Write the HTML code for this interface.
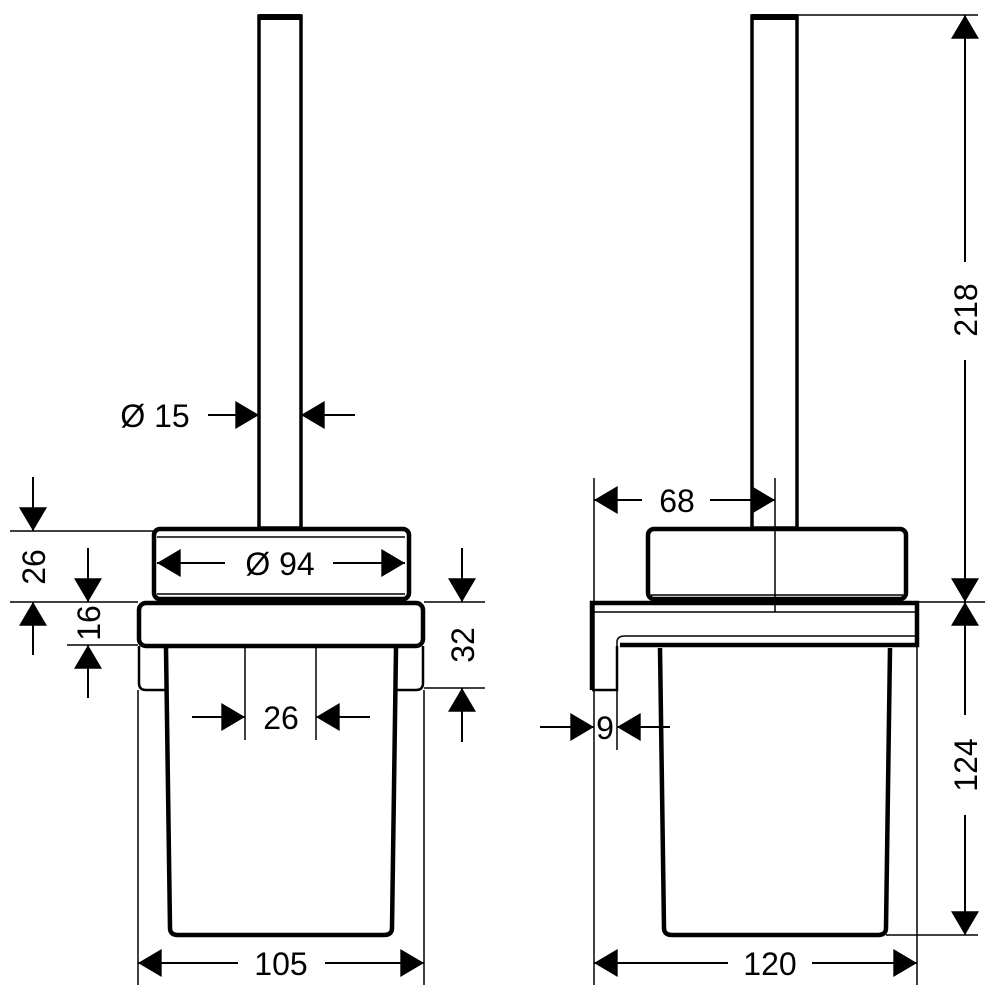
<!DOCTYPE html>
<html><head><meta charset="utf-8"><style>html,body{margin:0;padding:0;background:#fff}svg{display:block}text{font-family:"Liberation Sans",sans-serif;font-size:32px;fill:#000}</style></head><body>
<svg width="1000" height="1000" viewBox="0 0 1000 1000" xmlns="http://www.w3.org/2000/svg">
<defs><marker id="a" markerUnits="userSpaceOnUse" markerWidth="24" markerHeight="28" viewBox="0 0 22 26" refX="22" refY="13" orient="auto-start-reverse"><path d="M0,0 L22,13 L0,26 z" fill="#000"/></marker></defs>
<g fill="none" stroke="#000">
<!-- LEFT VIEW -->
<rect x="259" y="16" width="42" height="512" stroke-width="3.5"/>
<rect x="259" y="14" width="42" height="6" fill="#000" stroke="none"/>
<rect x="154" y="529" width="255" height="70" rx="6" stroke-width="4.5"/>
<line x1="157" y1="537" x2="405" y2="537" stroke-width="1.5"/>
<line x1="157" y1="594" x2="405" y2="594" stroke-width="1.5"/>
<rect x="139" y="603" width="284" height="43" rx="7" stroke-width="4.5"/>
<path d="M139,646 V683 Q139,690 146,690 H166" stroke-width="2.5"/>
<path d="M423,646 V683 Q423,690 416,690 H396" stroke-width="2.5"/>
<path d="M166,648 L170,928 Q170,935 178,935 H384 Q392,935 392,928 L396,648" stroke-width="4.5"/>
<line x1="138" y1="690" x2="138" y2="985" stroke-width="1.5"/>
<line x1="424" y1="690" x2="424" y2="985" stroke-width="1.5"/>
<!-- left dims -->
<line x1="10" y1="531" x2="153" y2="531" stroke-width="1.5"/>
<line x1="10" y1="602" x2="138" y2="602" stroke-width="1.5"/>
<line x1="67" y1="645" x2="138" y2="645" stroke-width="1.5"/>
<line x1="424" y1="602" x2="485" y2="602" stroke-width="1.5"/>
<line x1="424" y1="688" x2="485" y2="688" stroke-width="1.5"/>
<line x1="33" y1="477" x2="33" y2="531" stroke-width="2" marker-end="url(#a)"/>
<line x1="33" y1="655" x2="33" y2="602" stroke-width="2" marker-end="url(#a)"/>
<line x1="88" y1="548" x2="88" y2="602" stroke-width="2" marker-end="url(#a)"/>
<line x1="88" y1="698" x2="88" y2="645" stroke-width="2" marker-end="url(#a)"/>
<line x1="462" y1="548" x2="462" y2="602" stroke-width="2" marker-end="url(#a)"/>
<line x1="462" y1="742" x2="462" y2="688" stroke-width="2" marker-end="url(#a)"/>
<line x1="208" y1="415" x2="259" y2="415" stroke-width="2" marker-end="url(#a)"/>
<line x1="355" y1="415" x2="301" y2="415" stroke-width="2" marker-end="url(#a)"/>
<line x1="157" y1="563" x2="225" y2="563" stroke-width="2" marker-start="url(#a)"/>
<line x1="333" y1="563" x2="405" y2="563" stroke-width="2" marker-end="url(#a)"/>
<line x1="245" y1="648" x2="245" y2="740" stroke-width="1.5"/>
<line x1="316" y1="648" x2="316" y2="740" stroke-width="1.5"/>
<line x1="192" y1="717" x2="245" y2="717" stroke-width="2" marker-end="url(#a)"/>
<line x1="370" y1="717" x2="316" y2="717" stroke-width="2" marker-end="url(#a)"/>
<line x1="138" y1="963" x2="238" y2="963" stroke-width="2" marker-start="url(#a)"/>
<line x1="325" y1="963" x2="424" y2="963" stroke-width="2" marker-end="url(#a)"/>
<!-- RIGHT VIEW -->
<rect x="752" y="16" width="45" height="512" stroke-width="3.5"/>
<rect x="752" y="14" width="45" height="6" fill="#000" stroke="none"/>
<rect x="648" y="529" width="258" height="70" rx="6" stroke-width="4.5"/>
<line x1="651" y1="595" x2="903" y2="595" stroke-width="1.5"/>
<path d="M592,690 V603 H917 V645 H620" stroke-width="4.5"/>
<path d="M592,690 H617 V646" stroke-width="2.5"/>
<line x1="594" y1="612" x2="915" y2="612" stroke-width="1.5"/>
<path d="M617,660 V642 Q617,636 625,636 H915" stroke-width="1.5"/>
<path d="M660,648 L664,928 Q664,935 672,935 H878 Q886,935 886,928 L890,648" stroke-width="4.5"/>
<line x1="775" y1="478" x2="775" y2="612" stroke-width="1.5"/>
<line x1="594" y1="478" x2="594" y2="985" stroke-width="1.5"/>
<line x1="617" y1="690" x2="617" y2="750" stroke-width="1.5"/>
<line x1="917" y1="645" x2="917" y2="985" stroke-width="1.5"/>
<line x1="594" y1="500" x2="642" y2="500" stroke-width="2" marker-start="url(#a)"/>
<line x1="710" y1="500" x2="775" y2="500" stroke-width="2" marker-end="url(#a)"/>
<line x1="540" y1="727" x2="594" y2="727" stroke-width="2" marker-end="url(#a)"/>
<line x1="670" y1="727" x2="617" y2="727" stroke-width="2" marker-end="url(#a)"/>
<line x1="594" y1="963" x2="728" y2="963" stroke-width="2" marker-start="url(#a)"/>
<line x1="812" y1="963" x2="917" y2="963" stroke-width="2" marker-end="url(#a)"/>
<line x1="797" y1="15" x2="978" y2="15" stroke-width="1.5"/>
<line x1="917" y1="602" x2="985" y2="602" stroke-width="1.5"/>
<line x1="886" y1="935" x2="978" y2="935" stroke-width="1.5"/>
<line x1="965" y1="15" x2="965" y2="262" stroke-width="2" marker-start="url(#a)"/>
<line x1="965" y1="360" x2="965" y2="602" stroke-width="2" marker-end="url(#a)"/>
<line x1="965" y1="602" x2="965" y2="715" stroke-width="2" marker-start="url(#a)"/>
<line x1="965" y1="815" x2="965" y2="935" stroke-width="2" marker-end="url(#a)"/>
</g>
<!-- texts -->
<text x="155" y="427" text-anchor="middle">Ø 15</text>
<text x="280" y="575" text-anchor="middle">Ø 94</text>
<text x="281" y="729" text-anchor="middle">26</text>
<text x="281" y="975" text-anchor="middle">105</text>
<text transform="translate(45,567) rotate(-90)" text-anchor="middle">26</text>
<text transform="translate(100,623) rotate(-90)" text-anchor="middle">16</text>
<text transform="translate(474,645) rotate(-90)" text-anchor="middle">32</text>
<text x="677" y="512" text-anchor="middle">68</text>
<text x="605" y="739" text-anchor="middle">9</text>
<text x="770" y="975" text-anchor="middle">120</text>
<text transform="translate(977,310) rotate(-90)" text-anchor="middle">218</text>
<text transform="translate(977,765) rotate(-90)" text-anchor="middle">124</text>
</svg>
</body></html>
